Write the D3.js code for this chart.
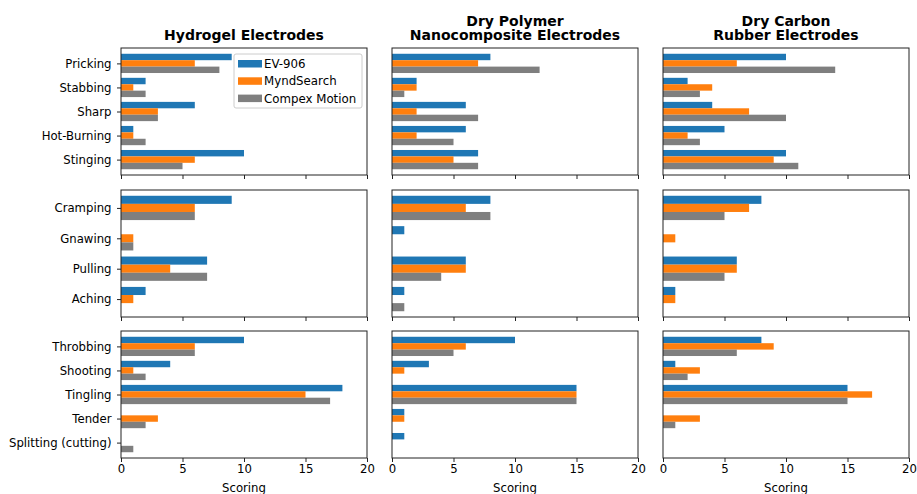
<!DOCTYPE html>
<meta charset="utf-8">
<style>
  body { margin: 0; background: #fff; }
  svg { font-family: "DejaVu Sans", sans-serif; }
</style>
<body>
<svg width="917" height="494"></svg>
<script src="https://d3js.org/d3.v7.min.js"></script>
<script>
// pain descriptor groups (one row of panels each)
var row1Labels = ["Pricking", "Stabbing", "Sharp", "Hot-Burning", "Stinging"];
var row2Labels = ["Cramping", "Gnawing", "Pulling", "Aching"];
var row3Labels = ["Throbbing", "Shooting", "Tingling", "Tender", "Splitting (cutting)"];

var seriesNames = ["EV-906", "MyndSearch", "Compex Motion"];
var panelTitles = [["Hydrogel Electrodes"], ["Dry Polymer", "Nanocomposite Electrodes"], ["Dry Carbon", "Rubber Electrodes"]];
var xTicks = [0, 5, 10, 15, 20];

// scores, in order row1 + row2 + row3
var hydrogelEV906   = [9, 2, 6, 1, 10,  9, 0, 7, 2,  10, 4, 18, 0, 0];
var hydrogelMynd    = [6, 1, 3, 1, 6,   6, 1, 4, 1,  6, 1, 15, 3, 0];
var hydrogelCompex  = [8, 2, 3, 2, 5,   6, 1, 7, 0,  6, 2, 17, 2, 1];
var polymerEV906    = [8, 2, 6, 6, 7,   8, 1, 6, 1,  10, 3, 15, 1, 1];
var polymerMynd     = [7, 2, 2, 2, 5,   6, 0, 6, 0,  6, 1, 15, 1, 0];
var polymerCompex   = [12, 1, 7, 5, 7,  8, 0, 4, 1,  5, 0, 15, 0, 0];
var carbonEV906     = [10, 2, 4, 5, 10, 8, 0, 6, 1,  8, 1, 15, 0, 0];
var carbonMynd      = [6, 4, 7, 2, 9,   7, 1, 6, 1,  9, 3, 17, 3, 0];
var carbonCompex    = [14, 3, 10, 3, 11, 5, 0, 5, 0, 6, 2, 15, 1, 0];

var colors = ["#1f77b4", "#ff7f0e", "#7f7f7f"];

var rows = [row1Labels, row2Labels, row3Labels];
var cols = [
  [hydrogelEV906, hydrogelMynd, hydrogelCompex],
  [polymerEV906, polymerMynd, polymerCompex],
  [carbonEV906, carbonMynd, carbonCompex]
];

var svg = d3.select("svg");
var colLeft = [121, 392, 663], panelW = 246;
var rowTop = [48, 190, 331], panelH = 127;
var barH = 0.8 / 3;

rows.forEach(function(labels, r) {
  var offset = d3.sum(rows.slice(0, r), function(l) { return l.length; });
  var n = labels.length;
  var m = 0.05 * (n - 1 + 0.8);
  var y = d3.scaleLinear()
    .domain([-0.4 - m, n - 1 + 0.4 + m])
    .range([rowTop[r], rowTop[r] + panelH]);

  cols.forEach(function(seriesSet, c) {
    var x = d3.scaleLinear().domain([0, 20]).range([colLeft[c], colLeft[c] + panelW]);
    var g = svg.append("g");

    seriesSet.forEach(function(vals, s) {
      var part = vals.slice(offset, offset + n);
      g.selectAll(null)
        .data(part)
        .enter().append("rect")
        .attr("x", x(0))
        .attr("y", function(d, i) { return y(i + (s - 1) * barH - barH / 2); })
        .attr("width", function(d) { return x(d) - x(0); })
        .attr("height", y(barH) - y(0))
        .attr("fill", colors[s]);
    });

    var xAxis = d3.axisBottom(x).tickValues(xTicks).tickSize(4).tickPadding(3);
    if (r < 2) xAxis.tickFormat("");
    var xg = g.append("g")
      .attr("transform", "translate(0," + (rowTop[r] + panelH) + ")")
      .call(xAxis);
    xg.select(".domain").remove();
    xg.selectAll("line").attr("stroke", "#222");
    xg.selectAll("text").attr("font-size", 11.7).attr("font-family", "DejaVu Sans").attr("fill", "#000");

    if (c == 0) {
      var yg = g.append("g")
        .attr("transform", "translate(" + x(0) + ",0)")
        .call(d3.axisLeft(y).tickValues(d3.range(n)).tickFormat(function(i) { return labels[i]; }).tickSize(4).tickPadding(5.5));
      yg.select(".domain").remove();
      yg.selectAll("line").attr("stroke", "#222");
      yg.selectAll("text").attr("font-size", 11.7).attr("font-family", "DejaVu Sans").attr("fill", "#000");
    }

    g.append("rect")
      .attr("x", x(0)).attr("y", rowTop[r])
      .attr("width", panelW).attr("height", panelH)
      .attr("fill", "none").attr("stroke", "#222").attr("stroke-width", 1);

    if (r == 2) {
      g.append("text")
        .attr("x", x(10)).attr("y", 492)
        .attr("text-anchor", "middle")
        .attr("font-size", 11.7)
        .text("Scoring");
    }

    if (r == 0) {
      var t = panelTitles[c];
      t.forEach(function(line, k) {
        g.append("text")
          .attr("x", x(10))
          .attr("y", 40 - (t.length - 1 - k) * 14.5)
          .attr("text-anchor", "middle")
          .attr("font-size", 14)
          .attr("font-weight", "bold")
          .text(line);
      });
    }
  });
});

// legend in the first panel
var leg = svg.append("g").attr("transform", "translate(234,54)");
leg.append("rect")
  .attr("width", 128).attr("height", 54).attr("rx", 2)
  .attr("fill", "#fff").attr("fill-opacity", 0.8)
  .attr("stroke", "#ccc");
seriesNames.forEach(function(name, i) {
  leg.append("rect")
    .attr("x", 4).attr("y", 6 + i * 17.3)
    .attr("width", 24).attr("height", 7.5)
    .attr("fill", colors[i]);
  leg.append("text")
    .attr("x", 30).attr("y", 14 + i * 17.3)
    .attr("font-size", 11.8)
    .text(name);
});
</script>
</body>
